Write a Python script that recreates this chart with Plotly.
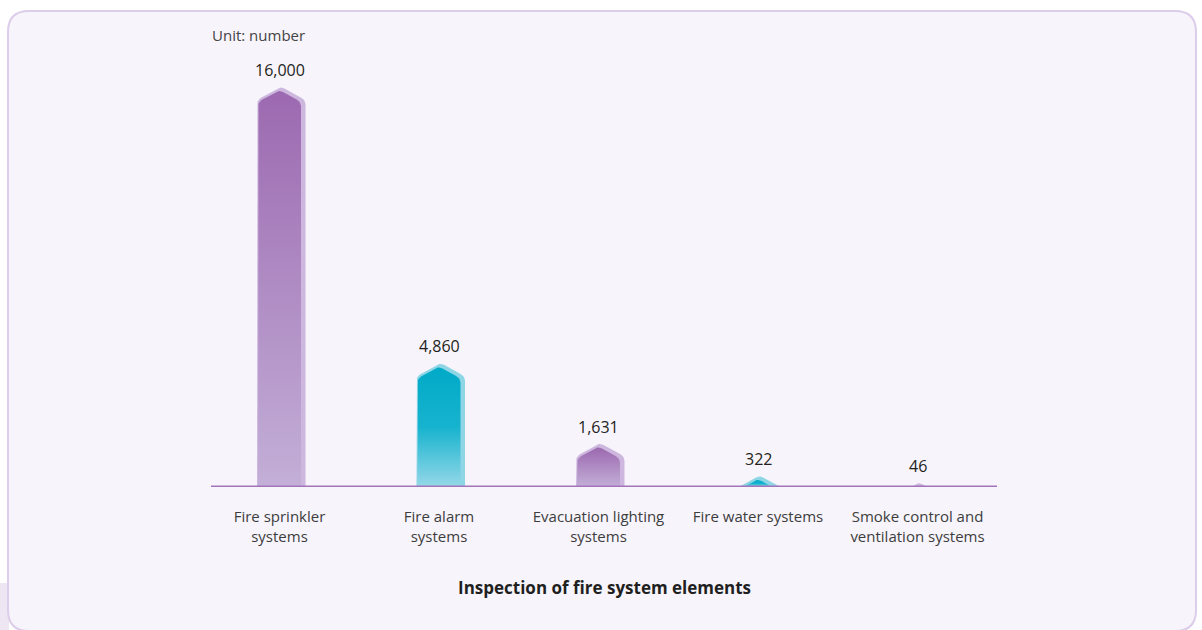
import numpy as np
import plotly.graph_objects as go

# ---- data -------------------------------------------------------------
categories = [
    "Fire sprinkler<br>systems",
    "Fire alarm<br>systems",
    "Evacuation lighting<br>systems",
    "Fire water systems",
    "Smoke control and<br>ventilation systems",
]
values = [16000, 4860, 1631, 322, 46]
value_text = ["16,000", "4,860", "1,631", "322", "46"]
bar_style = ["violet", "teal", "violet", "teal", "violet"]

# ---- layout geometry --------------------------------------------------
W, H = 1202, 630
M_BOTTOM = 143
PLOT_H = H - M_BOTTOM          # plot area height in px (baseline at its bottom)
SLOT_PX = 159.5                # px between category centres
FIRST_PX = 279.5               # px position of the first category centre
Y_MAX = 19630

X_RANGE = [-FIRST_PX / SLOT_PX, (W - FIRST_PX) / SLOT_PX]
PX_PER_Y = PLOT_H / Y_MAX

FONT = "Open Sans"

STYLES = {
    "violet": dict(rim="#cdb7de",
                   scale=[[0, "#c3afd7"], [1, "#9c69b0"]]),
    "teal": dict(rim="#8ed5e5",
                 scale=[[0, "#95d8e8"], [0.5, "#17b3ce"], [1, "#00aac8"]]),
}


def rounded(pts, radii, steps=7):
    """Replace selected polygon corners with quadratic curves."""
    out = []
    n = len(pts)
    for k in range(n):
        p = np.array(pts[k], float)
        r = radii[k]
        if r <= 0:
            out.append(p)
            continue
        a = np.array(pts[k - 1], float)
        b = np.array(pts[(k + 1) % n], float)
        u = (a - p) / np.linalg.norm(a - p)
        v = (b - p) / np.linalg.norm(b - p)
        s, e = p + u * r, p + v * r
        for t in np.linspace(0, 1, steps):
            out.append((1 - t) ** 2 * s + 2 * (1 - t) * t * p + t ** 2 * e)
    return out


def clip_above(poly, y0=0.0):
    """Keep the part of a polygon lying above the baseline."""
    res = []
    n = len(poly)
    for k in range(n):
        cur, prev = poly[k], poly[k - 1]
        cin, pin = cur[1] >= y0, prev[1] >= y0
        if cin:
            if not pin:
                t = (y0 - prev[1]) / (cur[1] - prev[1])
                res.append(prev + t * (cur - prev))
            res.append(cur)
        elif pin:
            t = (y0 - prev[1]) / (cur[1] - prev[1])
            res.append(prev + t * (cur - prev))
    return res


def arrow_bar(tip_px, left, right, tip_x, peak):
    """Column with a pointed top, in px relative to centre and baseline."""
    pts = [
        (left, -300),
        (left, tip_px - peak),
        (tip_x, tip_px),
        (right, tip_px - peak),
        (right, -300),
    ]
    poly = rounded(pts, [0, 5, 4, 5, 0])
    return clip_above(poly)


def to_data(i, poly):
    xs = [i + p[0] / SLOT_PX for p in poly]
    ys = [p[1] / PX_PER_Y for p in poly]
    return xs + xs[:1], ys + ys[:1]


fig = go.Figure()

for i, (v, st) in enumerate(zip(values, bar_style)):
    v_px = v * PX_PER_Y
    sty = STYLES[st]
    # lighter rim behind the column
    rim = arrow_bar(v_px + 3.5, -22.5, 26.0, 1.5, 13.5)
    if rim:
        xs, ys = to_data(i, rim)
        fig.add_trace(go.Scatter(
            x=xs, y=ys, mode="lines", line=dict(width=0),
            fill="toself", fillcolor=sty["rim"], hoverinfo="skip",
            showlegend=False))
    body = arrow_bar(v_px, -21.5, 21.5, 0.0, 12.0)
    if body:
        xs, ys = to_data(i, body)
        fig.add_trace(go.Scatter(
            x=xs, y=ys, mode="lines", line=dict(width=0),
            fill="toself",
            fillgradient=dict(type="vertical", colorscale=sty["scale"]),
            hoverinfo="skip", showlegend=False))


def px_x(p):
    return p / W


def px_y(p):
    return (PLOT_H - p) / PLOT_H


# rounded card behind the chart
L, R, T, B, RAD = 8, 1196, 11, 631, 21
card = (
    f"M {px_x(L + RAD)},{px_y(T)} L {px_x(R - RAD)},{px_y(T)} "
    f"Q {px_x(R)},{px_y(T)} {px_x(R)},{px_y(T + RAD)} "
    f"L {px_x(R)},{px_y(B - RAD)} "
    f"Q {px_x(R)},{px_y(B)} {px_x(R - RAD)},{px_y(B)} "
    f"L {px_x(L + RAD)},{px_y(B)} "
    f"Q {px_x(L)},{px_y(B)} {px_x(L)},{px_y(B - RAD)} "
    f"L {px_x(L)},{px_y(T + RAD)} "
    f"Q {px_x(L)},{px_y(T)} {px_x(L + RAD)},{px_y(T)} Z"
)

shapes = [
    dict(type="rect", xref="paper", yref="paper",
         x0=px_x(0), x1=px_x(9), y0=px_y(583), y1=px_y(632),
         fillcolor="#eee6f3", line=dict(width=0), layer="below"),
    dict(type="path", xref="paper", yref="paper", path=card,
         fillcolor="#f7f4fb", line=dict(color="#dccdea", width=2),
         layer="below"),
    dict(type="line", xref="paper", yref="y",
         x0=px_x(211), x1=px_x(997), y0=0, y1=0,
         line=dict(color="#a474bb", width=3), layer="above"),
]

annotations = [
    dict(x=i, y=v, xref="x", yref="y", text=t, showarrow=False,
         yanchor="bottom", yshift=7,
         font=dict(family=FONT, size=16, color="#231f20"))
    for i, (v, t) in enumerate(zip(values, value_text))
]
annotations += [
    dict(x=px_x(210), y=px_y(35), xref="paper", yref="paper",
         text="Unit: number", showarrow=False, xanchor="left",
         yanchor="middle", font=dict(family=FONT, size=15, color="#444444")),
    dict(x=px_x(604), y=px_y(587), xref="paper", yref="paper",
         text="<b>Inspection of fire system elements</b>", showarrow=False,
         xanchor="center", yanchor="middle",
         font=dict(family=FONT, size=17, color="#1f1f1f")),
]

fig.update_layout(
    width=W, height=H,
    margin=dict(l=0, r=0, t=0, b=M_BOTTOM, pad=0),
    paper_bgcolor="#ffffff",
    plot_bgcolor="rgba(0,0,0,0)",
    shapes=shapes,
    annotations=annotations,
    xaxis=dict(range=X_RANGE, tickvals=list(range(len(categories))),
               ticktext=categories, ticks="", showgrid=False,
               zeroline=False, showline=False, fixedrange=True,
               ticklabelstandoff=19,
               tickfont=dict(family=FONT, size=15, color="#3d3d3d")),
    yaxis=dict(range=[0, Y_MAX], visible=False, fixedrange=True),
)

fig.write_html("out.html")
